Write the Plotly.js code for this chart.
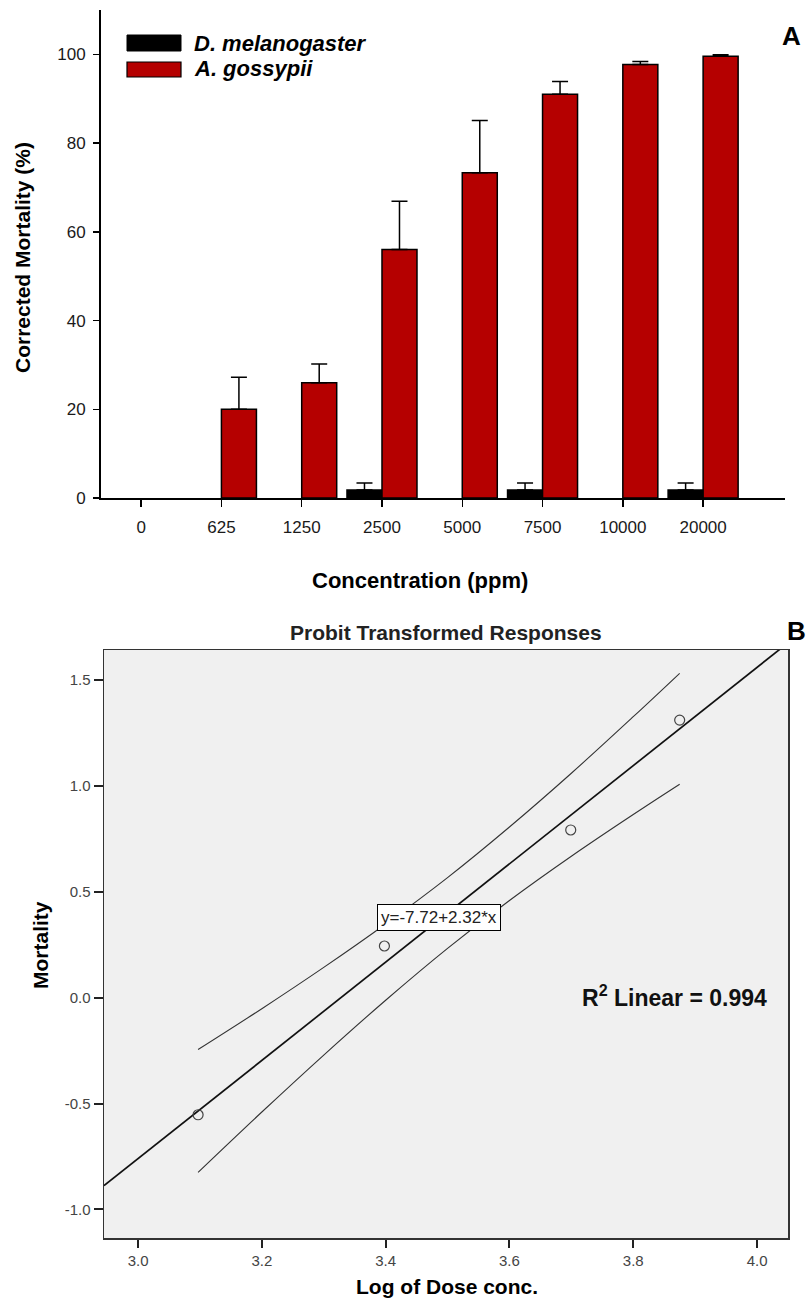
<!DOCTYPE html>
<html>
<head>
<meta charset="utf-8">
<script src="https://cdn.plot.ly/plotly-3.0.1.min.js"></script>
<style>html,body{margin:0;padding:0;background:#fff;}#chart{width:806px;height:1306px;}</style>
</head>
<body>
<div id="chart"></div>
<script>
// ---------- Panel A data ----------
const categories = ['0','625','1250','2500','5000','7500','10000','20000'];
const dmelName = 'D. melanogaster';
const dmelValues = [0, 0, 0, 1.8, 0, 1.8, 0, 1.8];
const dmelErrors = [0, 0, 0, 1.6, 0, 1.6, 0, 1.6];
const agosName = 'A. gossypii';
const agosValues = [0, 20, 26, 56, 73.3, 91, 97.7, 99.6];
const agosErrors = [0, 7.2, 4.2, 10.9, 11.8, 2.9, 0.7, 0.3];
const yTicksA = [0, 20, 40, 60, 80, 100];

// ---------- Panel B data ----------
const logDose = [3.097, 3.398, 3.699, 3.875];
const probit = [-0.553, 0.244, 0.792, 1.311];
const fitX = [2.945, 4.05];
const fitY = [-0.888, 1.676];
const bandX = [3.097, 3.2, 3.3, 3.4, 3.5, 3.6, 3.7, 3.8, 3.875];
const bandUpper = [-0.245, -0.052, 0.143, 0.348, 0.567, 0.806, 1.060, 1.327, 1.532];
const bandLower = [-0.825, -0.540, -0.271, -0.012, 0.233, 0.459, 0.668, 0.865, 1.008];
const xTicksB = [3.0, 3.2, 3.4, 3.6, 3.8, 4.0];
const yTicksB = [-1.0, -0.5, 0.0, 0.5, 1.0, 1.5];
const equationText = 'y=-7.72+2.32*x';
const r2Text = 'R<sup>2</sup> Linear = 0.994';

const W = 806, H = 1306;
const px = v => v / W;
const py = v => 1 - v / H;
const FONT = '"Liberation Sans", Arial, sans-serif';
const RED = '#B50000';

// zero-height bars draw nothing in the reference (no outline, no error bar)
const visibleVals = vals => vals.map(v => (v > 0 ? v : null));
const zeros = dmelValues.map(() => 0);

const traces = [
  {
    type: 'bar', name: dmelName, x: categories, y: visibleVals(dmelValues),
    xaxis: 'x', yaxis: 'y',
    marker: {color: '#000000', line: {color: '#000000', width: 1.5}},
    error_y: {type: 'data', symmetric: false, array: dmelErrors, arrayminus: zeros,
              color: '#000000', thickness: 1.5, width: 8},
    showlegend: false
  },
  {
    type: 'bar', name: agosName, x: categories, y: visibleVals(agosValues),
    xaxis: 'x', yaxis: 'y',
    marker: {color: RED, line: {color: '#000000', width: 1.5}},
    error_y: {type: 'data', symmetric: false, array: agosErrors, arrayminus: zeros,
              color: '#000000', thickness: 1.5, width: 8},
    showlegend: false
  },
  {
    type: 'scatter', mode: 'lines', x: bandX, y: bandUpper, xaxis: 'x2', yaxis: 'y2',
    line: {color: '#333333', width: 1.1, shape: 'spline'}, showlegend: false, hoverinfo: 'skip'
  },
  {
    type: 'scatter', mode: 'lines', x: bandX, y: bandLower, xaxis: 'x2', yaxis: 'y2',
    line: {color: '#333333', width: 1.1, shape: 'spline'}, showlegend: false, hoverinfo: 'skip'
  },
  {
    type: 'scatter', mode: 'lines', x: fitX, y: fitY, xaxis: 'x2', yaxis: 'y2',
    line: {color: '#111111', width: 1.7}, showlegend: false
  },
  {
    type: 'scatter', mode: 'markers', x: logDose, y: probit, xaxis: 'x2', yaxis: 'y2',
    marker: {symbol: 'circle-open', size: 10, color: '#444444', line: {width: 1.2, color: '#444444'}},
    showlegend: false, cliponaxis: false
  }
];

const boldT = (t) => '<b>' + t + '</b>';

const layout = {
  width: W, height: H,
  margin: {l: 0, r: 0, t: 0, b: 0, pad: 0},
  paper_bgcolor: '#ffffff',
  plot_bgcolor: 'rgba(0,0,0,0)',
  font: {family: FONT, color: '#000'},
  barmode: 'group', bargap: 0.128, bargroupgap: 0,
  xaxis: {
    domain: [px(101), px(785)], anchor: 'y',
    type: 'category', range: [-0.5, 8.02],
    categoryorder: 'array', categoryarray: categories,
    showline: true, linecolor: '#000', linewidth: 2,
    ticks: 'outside', ticklen: 7, tickwidth: 1.5, tickcolor: '#000',
    ticklabelstandoff: 6,
    tickfont: {size: 17, color: '#1a1a1a', family: FONT},
    showgrid: false, zeroline: false, automargin: false, fixedrange: true
  },
  yaxis: {
    domain: [py(498), py(10)], anchor: 'x',
    range: [0, 110], tickvals: yTicksA,
    showline: true, linecolor: '#000', linewidth: 2,
    ticks: 'outside', ticklen: 6, tickwidth: 1.5, tickcolor: '#000',
    ticklabelstandoff: 4,
    tickfont: {size: 17, color: '#1a1a1a', family: FONT},
    showgrid: false, zeroline: false, automargin: false, fixedrange: true
  },
  xaxis2: {
    domain: [px(104), px(788)], anchor: 'y2',
    range: [2.945, 4.05], tickvals: xTicksB, ticktext: xTicksB.map(v => v.toFixed(1)),
    showline: true, mirror: true, linecolor: '#333', linewidth: 1.5,
    ticks: 'outside', ticklen: 8, tickwidth: 2, tickcolor: '#222',
    ticklabelstandoff: 0,
    tickfont: {size: 15, color: '#444', family: FONT},
    showgrid: false, zeroline: false, automargin: false, fixedrange: true
  },
  yaxis2: {
    domain: [py(1238), py(650)], anchor: 'x2',
    range: [-1.135, 1.642], tickvals: yTicksB, ticktext: yTicksB.map(v => v.toFixed(1)),
    showline: true, mirror: true, linecolor: '#333', linewidth: 1.5,
    ticks: 'outside', ticklen: 9, tickwidth: 2, tickcolor: '#222',
    ticklabelstandoff: 0,
    tickfont: {size: 15, color: '#444', family: FONT},
    showgrid: false, zeroline: false, automargin: false, fixedrange: true
  },
  shapes: [
    {type: 'rect', xref: 'x2 domain', yref: 'y2 domain', x0: 0, x1: 1, y0: 0, y1: 1,
     fillcolor: '#F0F0F0', line: {width: 0}, layer: 'below'},
    {type: 'rect', xref: 'paper', yref: 'paper', x0: px(127), x1: px(181), y0: py(51), y1: py(35),
     fillcolor: '#000', line: {color: '#000', width: 1}},
    {type: 'rect', xref: 'paper', yref: 'paper', x0: px(127), x1: px(181), y0: py(77), y1: py(62),
     fillcolor: RED, line: {color: '#000', width: 1.2}}
  ],
  annotations: [
    {xref: 'paper', yref: 'paper', x: px(192), y: py(43), xanchor: 'left', yanchor: 'middle',
     text: '<b><i>' + dmelName + '</i></b>', showarrow: false, font: {size: 22, color: '#000', family: FONT}},
    {xref: 'paper', yref: 'paper', x: px(192), y: py(69), xanchor: 'left', yanchor: 'middle',
     text: '<b><i>' + agosName + '</i></b>', showarrow: false, font: {size: 22, color: '#000', family: FONT}},
    {xref: 'paper', yref: 'paper', x: px(791), y: py(36), xanchor: 'center', yanchor: 'middle',
     text: boldT('A'), showarrow: false, font: {size: 26, color: '#000', family: FONT}},
    {xref: 'paper', yref: 'paper', x: px(796), y: py(631), xanchor: 'center', yanchor: 'middle',
     text: boldT('B'), showarrow: false, font: {size: 26, color: '#000', family: FONT}},
    {xref: 'paper', yref: 'paper', x: px(22), y: py(258), xanchor: 'center', yanchor: 'middle',
     textangle: -90, text: boldT('Corrected Mortality (%)'), showarrow: false,
     font: {size: 21, color: '#000', family: FONT}},
    {xref: 'paper', yref: 'paper', x: px(420), y: py(580), xanchor: 'center', yanchor: 'middle',
     text: boldT('Concentration (ppm)'), showarrow: false, font: {size: 22, color: '#000', family: FONT}},
    {xref: 'paper', yref: 'paper', x: px(446), y: py(633), xanchor: 'center', yanchor: 'middle',
     text: boldT('Probit Transformed Responses'), showarrow: false, font: {size: 21, color: '#222', family: FONT}},
    {xref: 'paper', yref: 'paper', x: px(40), y: py(945), xanchor: 'center', yanchor: 'middle',
     textangle: -90, text: boldT('Mortality'), showarrow: false, font: {size: 21, color: '#000', family: FONT}},
    {xref: 'paper', yref: 'paper', x: px(447), y: py(1286), xanchor: 'center', yanchor: 'middle',
     text: boldT('Log of Dose conc.'), showarrow: false, font: {size: 21, color: '#000', family: FONT}},
    {xref: 'x2', yref: 'y2', x: 3.386, y: 0.377, xanchor: 'left', yanchor: 'middle',
     text: equationText, showarrow: false, bgcolor: '#ffffff', bordercolor: '#000', borderwidth: 1,
     borderpad: 3, font: {size: 17, color: '#222', family: FONT}},
    {xref: 'x2', yref: 'y2', x: 3.866, y: 0.01, xanchor: 'center', yanchor: 'middle',
     text: boldT(r2Text), showarrow: false, font: {size: 23, color: '#111', family: FONT}}
  ]
};

Plotly.newPlot('chart', traces, layout, {displayModeBar: false, staticPlot: true});
</script>
</body>
</html>
